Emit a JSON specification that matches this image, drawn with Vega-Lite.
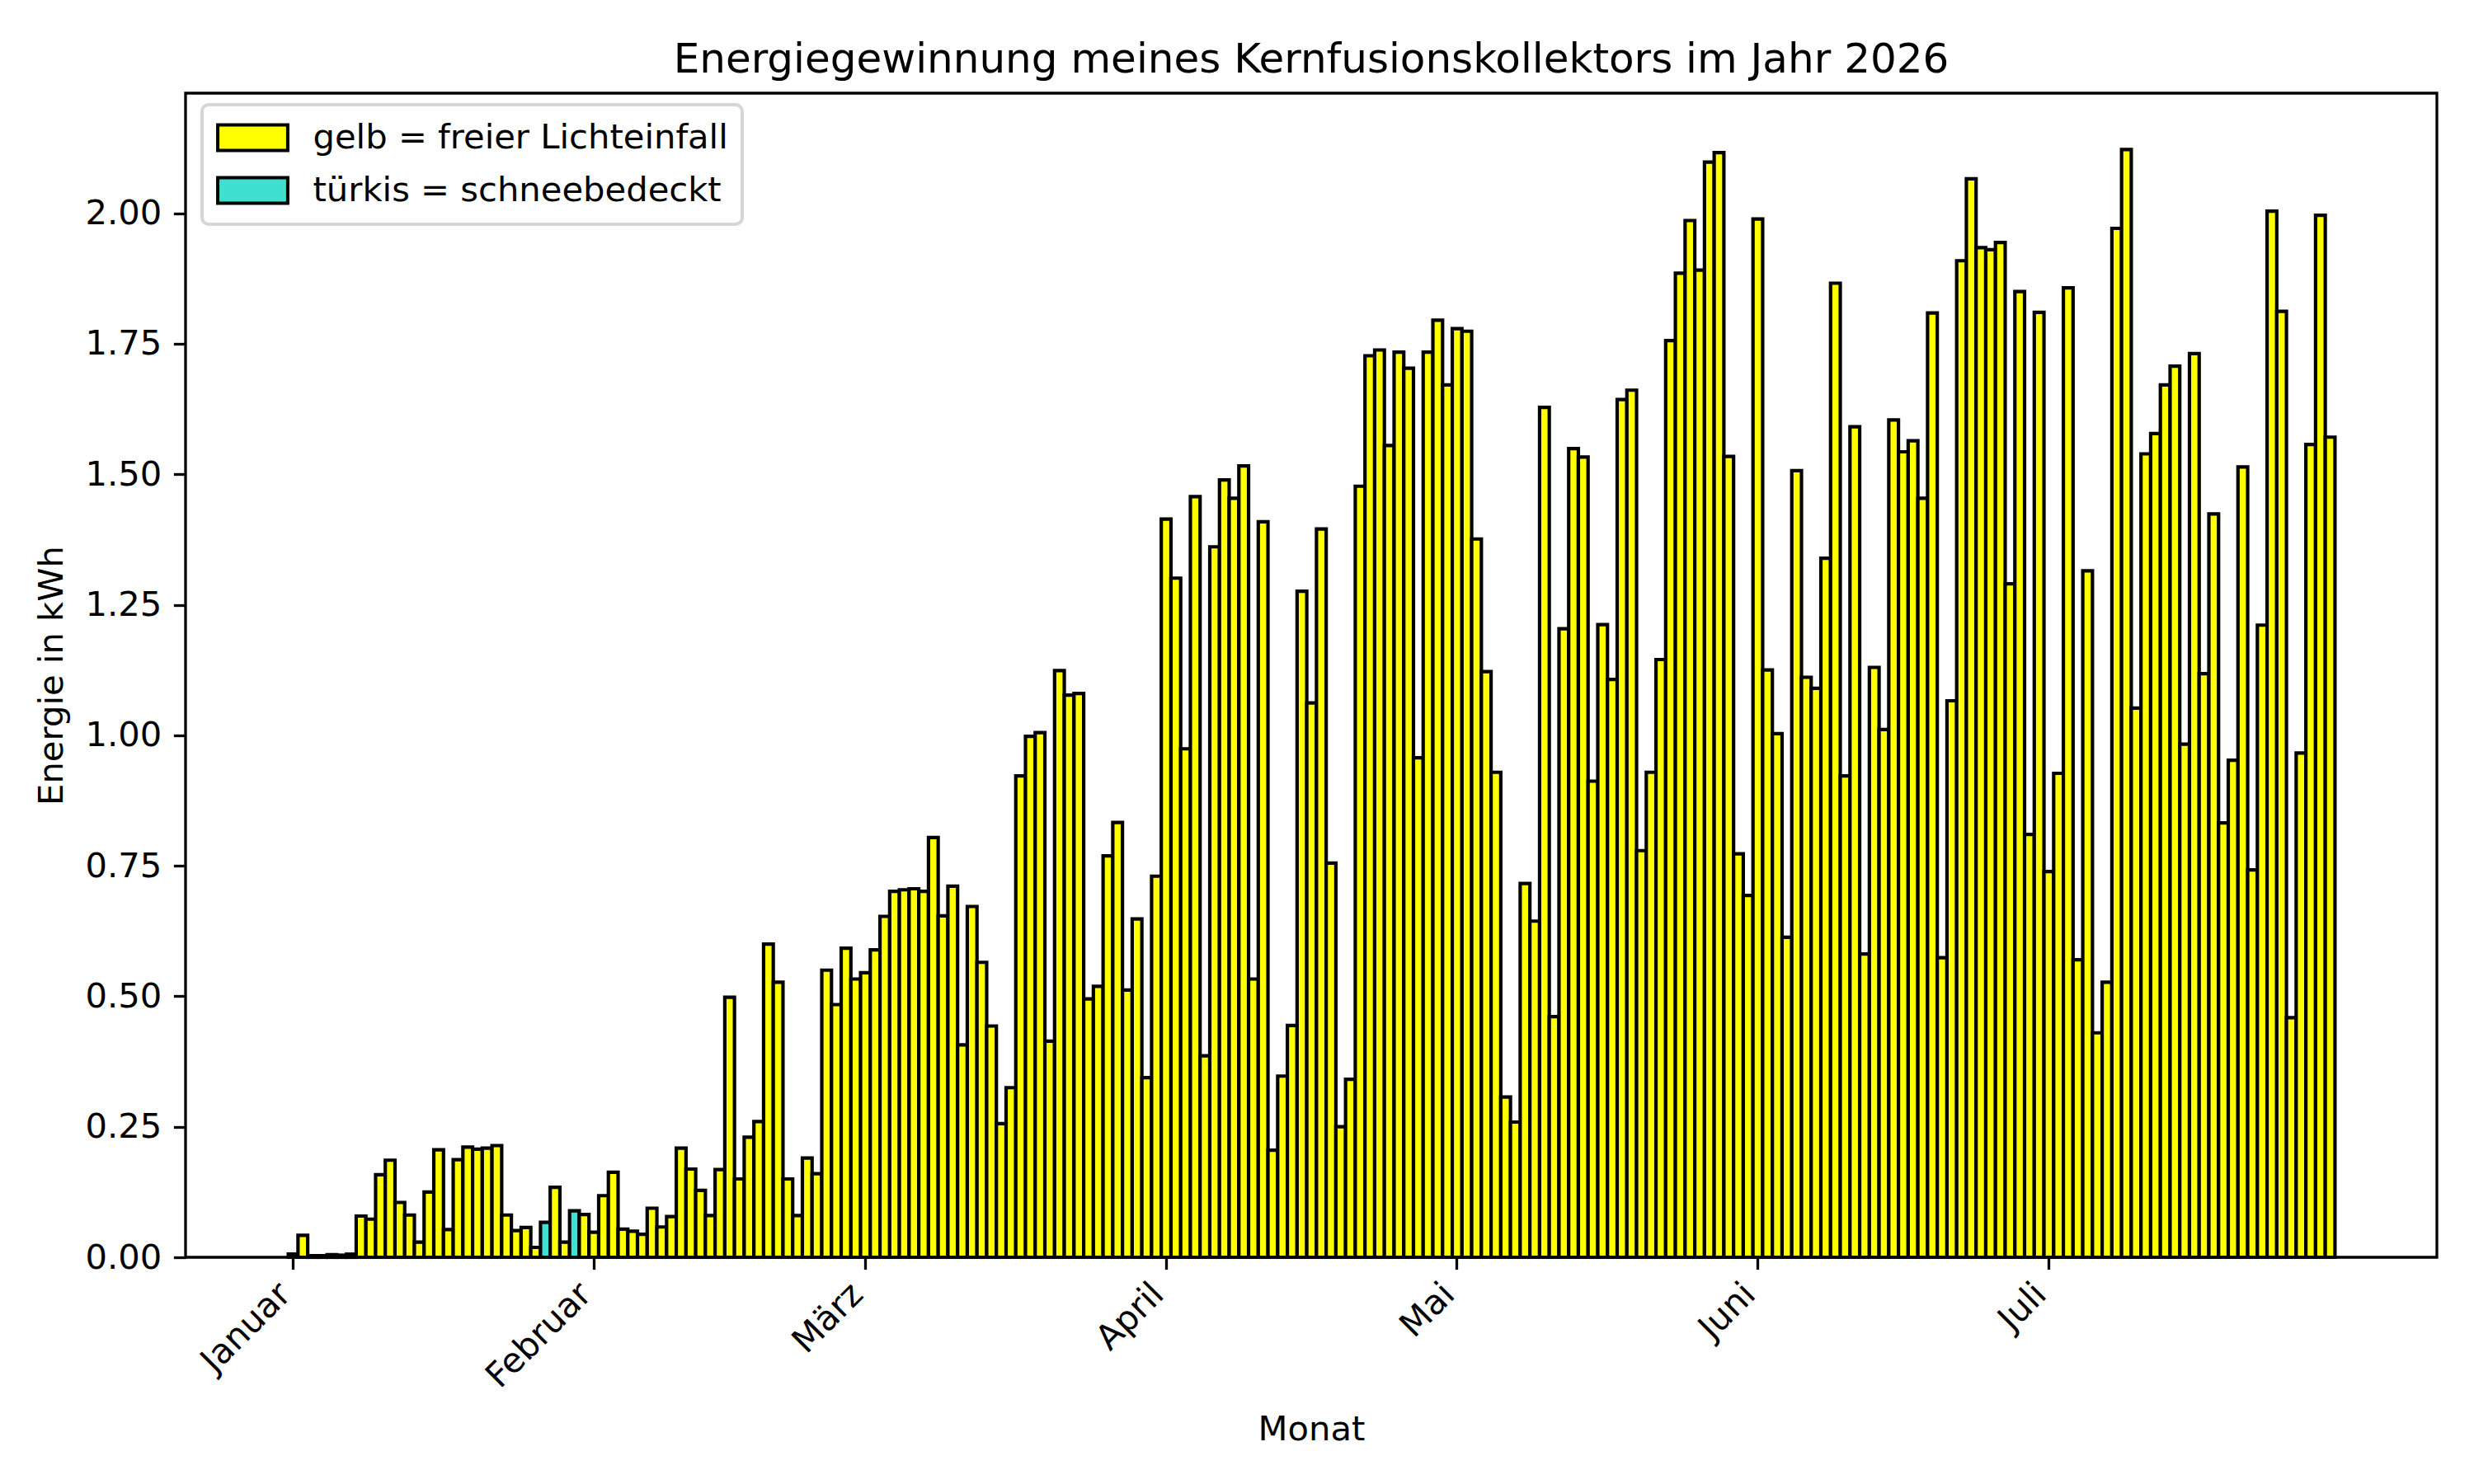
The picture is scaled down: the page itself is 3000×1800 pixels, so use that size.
{
  "$schema": "https://vega.github.io/schema/vega-lite/v6.json",
  "width": 2730,
  "height": 1412,
  "autosize": {"type": "none"},
  "padding": {"left": 225, "top": 113, "right": 45, "bottom": 275},
  "background": "white",
  "title": {
    "text": "Energiegewinnung meines Kernfusionskollektors im Jahr 2026",
    "font": "DejaVu Sans",
    "fontSize": 50,
    "fontWeight": "normal",
    "color": "black",
    "anchor": "middle",
    "frame": "group",
    "baseline": "alphabetic",
    "offset": 26,
    "dy": 51
  },
  "data": {
    "values": [
      {"tag": "2026-01-01", "energie": 0.006, "zustand": "frei"},
      {"tag": "2026-01-02", "energie": 0.042, "zustand": "frei"},
      {"tag": "2026-01-03", "energie": 0.003, "zustand": "frei"},
      {"tag": "2026-01-04", "energie": 0.003, "zustand": "frei"},
      {"tag": "2026-01-05", "energie": 0.005, "zustand": "frei"},
      {"tag": "2026-01-06", "energie": 0.004, "zustand": "frei"},
      {"tag": "2026-01-07", "energie": 0.006, "zustand": "frei"},
      {"tag": "2026-01-08", "energie": 0.079, "zustand": "frei"},
      {"tag": "2026-01-09", "energie": 0.073, "zustand": "frei"},
      {"tag": "2026-01-10", "energie": 0.158, "zustand": "frei"},
      {"tag": "2026-01-11", "energie": 0.186, "zustand": "frei"},
      {"tag": "2026-01-12", "energie": 0.105, "zustand": "frei"},
      {"tag": "2026-01-13", "energie": 0.081, "zustand": "frei"},
      {"tag": "2026-01-14", "energie": 0.029, "zustand": "frei"},
      {"tag": "2026-01-15", "energie": 0.125, "zustand": "frei"},
      {"tag": "2026-01-16", "energie": 0.206, "zustand": "frei"},
      {"tag": "2026-01-17", "energie": 0.053, "zustand": "frei"},
      {"tag": "2026-01-18", "energie": 0.187, "zustand": "frei"},
      {"tag": "2026-01-19", "energie": 0.211, "zustand": "frei"},
      {"tag": "2026-01-20", "energie": 0.207, "zustand": "frei"},
      {"tag": "2026-01-21", "energie": 0.209, "zustand": "frei"},
      {"tag": "2026-01-22", "energie": 0.214, "zustand": "frei"},
      {"tag": "2026-01-23", "energie": 0.081, "zustand": "frei"},
      {"tag": "2026-01-24", "energie": 0.051, "zustand": "frei"},
      {"tag": "2026-01-25", "energie": 0.057, "zustand": "frei"},
      {"tag": "2026-01-26", "energie": 0.019, "zustand": "frei"},
      {"tag": "2026-01-27", "energie": 0.067, "zustand": "schnee"},
      {"tag": "2026-01-28", "energie": 0.134, "zustand": "frei"},
      {"tag": "2026-01-29", "energie": 0.029, "zustand": "frei"},
      {"tag": "2026-01-30", "energie": 0.089, "zustand": "schnee"},
      {"tag": "2026-01-31", "energie": 0.082, "zustand": "frei"},
      {"tag": "2026-02-01", "energie": 0.048, "zustand": "frei"},
      {"tag": "2026-02-02", "energie": 0.118, "zustand": "frei"},
      {"tag": "2026-02-03", "energie": 0.163, "zustand": "frei"},
      {"tag": "2026-02-04", "energie": 0.054, "zustand": "frei"},
      {"tag": "2026-02-05", "energie": 0.050, "zustand": "frei"},
      {"tag": "2026-02-06", "energie": 0.044, "zustand": "frei"},
      {"tag": "2026-02-07", "energie": 0.094, "zustand": "frei"},
      {"tag": "2026-02-08", "energie": 0.058, "zustand": "frei"},
      {"tag": "2026-02-09", "energie": 0.078, "zustand": "frei"},
      {"tag": "2026-02-10", "energie": 0.209, "zustand": "frei"},
      {"tag": "2026-02-11", "energie": 0.169, "zustand": "frei"},
      {"tag": "2026-02-12", "energie": 0.128, "zustand": "frei"},
      {"tag": "2026-02-13", "energie": 0.080, "zustand": "frei"},
      {"tag": "2026-02-14", "energie": 0.168, "zustand": "frei"},
      {"tag": "2026-02-15", "energie": 0.498, "zustand": "frei"},
      {"tag": "2026-02-16", "energie": 0.150, "zustand": "frei"},
      {"tag": "2026-02-17", "energie": 0.230, "zustand": "frei"},
      {"tag": "2026-02-18", "energie": 0.260, "zustand": "frei"},
      {"tag": "2026-02-19", "energie": 0.600, "zustand": "frei"},
      {"tag": "2026-02-20", "energie": 0.527, "zustand": "frei"},
      {"tag": "2026-02-21", "energie": 0.150, "zustand": "frei"},
      {"tag": "2026-02-22", "energie": 0.080, "zustand": "frei"},
      {"tag": "2026-02-23", "energie": 0.190, "zustand": "frei"},
      {"tag": "2026-02-24", "energie": 0.160, "zustand": "frei"},
      {"tag": "2026-02-25", "energie": 0.550, "zustand": "frei"},
      {"tag": "2026-02-26", "energie": 0.484, "zustand": "frei"},
      {"tag": "2026-02-27", "energie": 0.592, "zustand": "frei"},
      {"tag": "2026-02-28", "energie": 0.533, "zustand": "frei"},
      {"tag": "2026-03-01", "energie": 0.545, "zustand": "frei"},
      {"tag": "2026-03-02", "energie": 0.589, "zustand": "frei"},
      {"tag": "2026-03-03", "energie": 0.653, "zustand": "frei"},
      {"tag": "2026-03-04", "energie": 0.701, "zustand": "frei"},
      {"tag": "2026-03-05", "energie": 0.704, "zustand": "frei"},
      {"tag": "2026-03-06", "energie": 0.706, "zustand": "frei"},
      {"tag": "2026-03-07", "energie": 0.701, "zustand": "frei"},
      {"tag": "2026-03-08", "energie": 0.804, "zustand": "frei"},
      {"tag": "2026-03-09", "energie": 0.654, "zustand": "frei"},
      {"tag": "2026-03-10", "energie": 0.711, "zustand": "frei"},
      {"tag": "2026-03-11", "energie": 0.407, "zustand": "frei"},
      {"tag": "2026-03-12", "energie": 0.672, "zustand": "frei"},
      {"tag": "2026-03-13", "energie": 0.565, "zustand": "frei"},
      {"tag": "2026-03-14", "energie": 0.443, "zustand": "frei"},
      {"tag": "2026-03-15", "energie": 0.256, "zustand": "frei"},
      {"tag": "2026-03-16", "energie": 0.325, "zustand": "frei"},
      {"tag": "2026-03-17", "energie": 0.922, "zustand": "frei"},
      {"tag": "2026-03-18", "energie": 0.998, "zustand": "frei"},
      {"tag": "2026-03-19", "energie": 1.005, "zustand": "frei"},
      {"tag": "2026-03-20", "energie": 0.414, "zustand": "frei"},
      {"tag": "2026-03-21", "energie": 1.124, "zustand": "frei"},
      {"tag": "2026-03-22", "energie": 1.077, "zustand": "frei"},
      {"tag": "2026-03-23", "energie": 1.080, "zustand": "frei"},
      {"tag": "2026-03-24", "energie": 0.495, "zustand": "frei"},
      {"tag": "2026-03-25", "energie": 0.519, "zustand": "frei"},
      {"tag": "2026-03-26", "energie": 0.769, "zustand": "frei"},
      {"tag": "2026-03-27", "energie": 0.833, "zustand": "frei"},
      {"tag": "2026-03-28", "energie": 0.512, "zustand": "frei"},
      {"tag": "2026-03-29", "energie": 0.648, "zustand": "frei"},
      {"tag": "2026-03-30", "energie": 0.344, "zustand": "frei"},
      {"tag": "2026-03-31", "energie": 0.730, "zustand": "frei"},
      {"tag": "2026-04-01", "energie": 1.414, "zustand": "frei"},
      {"tag": "2026-04-02", "energie": 1.301, "zustand": "frei"},
      {"tag": "2026-04-03", "energie": 0.974, "zustand": "frei"},
      {"tag": "2026-04-04", "energie": 1.457, "zustand": "frei"},
      {"tag": "2026-04-05", "energie": 0.386, "zustand": "frei"},
      {"tag": "2026-04-06", "energie": 1.361, "zustand": "frei"},
      {"tag": "2026-04-07", "energie": 1.489, "zustand": "frei"},
      {"tag": "2026-04-08", "energie": 1.454, "zustand": "frei"},
      {"tag": "2026-04-09", "energie": 1.516, "zustand": "frei"},
      {"tag": "2026-04-10", "energie": 0.533, "zustand": "frei"},
      {"tag": "2026-04-11", "energie": 1.409, "zustand": "frei"},
      {"tag": "2026-04-12", "energie": 0.205, "zustand": "frei"},
      {"tag": "2026-04-13", "energie": 0.347, "zustand": "frei"},
      {"tag": "2026-04-14", "energie": 0.444, "zustand": "frei"},
      {"tag": "2026-04-15", "energie": 1.276, "zustand": "frei"},
      {"tag": "2026-04-16", "energie": 1.062, "zustand": "frei"},
      {"tag": "2026-04-17", "energie": 1.395, "zustand": "frei"},
      {"tag": "2026-04-18", "energie": 0.755, "zustand": "frei"},
      {"tag": "2026-04-19", "energie": 0.250, "zustand": "frei"},
      {"tag": "2026-04-20", "energie": 0.341, "zustand": "frei"},
      {"tag": "2026-04-21", "energie": 1.477, "zustand": "frei"},
      {"tag": "2026-04-22", "energie": 1.727, "zustand": "frei"},
      {"tag": "2026-04-23", "energie": 1.738, "zustand": "frei"},
      {"tag": "2026-04-24", "energie": 1.555, "zustand": "frei"},
      {"tag": "2026-04-25", "energie": 1.734, "zustand": "frei"},
      {"tag": "2026-04-26", "energie": 1.703, "zustand": "frei"},
      {"tag": "2026-04-27", "energie": 0.957, "zustand": "frei"},
      {"tag": "2026-04-28", "energie": 1.734, "zustand": "frei"},
      {"tag": "2026-04-29", "energie": 1.795, "zustand": "frei"},
      {"tag": "2026-04-30", "energie": 1.671, "zustand": "frei"},
      {"tag": "2026-05-01", "energie": 1.779, "zustand": "frei"},
      {"tag": "2026-05-02", "energie": 1.774, "zustand": "frei"},
      {"tag": "2026-05-03", "energie": 1.376, "zustand": "frei"},
      {"tag": "2026-05-04", "energie": 1.122, "zustand": "frei"},
      {"tag": "2026-05-05", "energie": 0.929, "zustand": "frei"},
      {"tag": "2026-05-06", "energie": 0.307, "zustand": "frei"},
      {"tag": "2026-05-07", "energie": 0.259, "zustand": "frei"},
      {"tag": "2026-05-08", "energie": 0.716, "zustand": "frei"},
      {"tag": "2026-05-09", "energie": 0.644, "zustand": "frei"},
      {"tag": "2026-05-10", "energie": 1.628, "zustand": "frei"},
      {"tag": "2026-05-11", "energie": 0.461, "zustand": "frei"},
      {"tag": "2026-05-12", "energie": 1.204, "zustand": "frei"},
      {"tag": "2026-05-13", "energie": 1.549, "zustand": "frei"},
      {"tag": "2026-05-14", "energie": 1.533, "zustand": "frei"},
      {"tag": "2026-05-15", "energie": 0.912, "zustand": "frei"},
      {"tag": "2026-05-16", "energie": 1.212, "zustand": "frei"},
      {"tag": "2026-05-17", "energie": 1.107, "zustand": "frei"},
      {"tag": "2026-05-18", "energie": 1.643, "zustand": "frei"},
      {"tag": "2026-05-19", "energie": 1.661, "zustand": "frei"},
      {"tag": "2026-05-20", "energie": 0.779, "zustand": "frei"},
      {"tag": "2026-05-21", "energie": 0.929, "zustand": "frei"},
      {"tag": "2026-05-22", "energie": 1.145, "zustand": "frei"},
      {"tag": "2026-05-23", "energie": 1.756, "zustand": "frei"},
      {"tag": "2026-05-24", "energie": 1.885, "zustand": "frei"},
      {"tag": "2026-05-25", "energie": 1.986, "zustand": "frei"},
      {"tag": "2026-05-26", "energie": 1.891, "zustand": "frei"},
      {"tag": "2026-05-27", "energie": 2.098, "zustand": "frei"},
      {"tag": "2026-05-28", "energie": 2.116, "zustand": "frei"},
      {"tag": "2026-05-29", "energie": 1.534, "zustand": "frei"},
      {"tag": "2026-05-30", "energie": 0.773, "zustand": "frei"},
      {"tag": "2026-05-31", "energie": 0.693, "zustand": "frei"},
      {"tag": "2026-06-01", "energie": 1.989, "zustand": "frei"},
      {"tag": "2026-06-02", "energie": 1.125, "zustand": "frei"},
      {"tag": "2026-06-03", "energie": 1.003, "zustand": "frei"},
      {"tag": "2026-06-04", "energie": 0.613, "zustand": "frei"},
      {"tag": "2026-06-05", "energie": 1.507, "zustand": "frei"},
      {"tag": "2026-06-06", "energie": 1.111, "zustand": "frei"},
      {"tag": "2026-06-07", "energie": 1.090, "zustand": "frei"},
      {"tag": "2026-06-08", "energie": 1.339, "zustand": "frei"},
      {"tag": "2026-06-09", "energie": 1.866, "zustand": "frei"},
      {"tag": "2026-06-10", "energie": 0.922, "zustand": "frei"},
      {"tag": "2026-06-11", "energie": 1.591, "zustand": "frei"},
      {"tag": "2026-06-12", "energie": 0.581, "zustand": "frei"},
      {"tag": "2026-06-13", "energie": 1.130, "zustand": "frei"},
      {"tag": "2026-06-14", "energie": 1.011, "zustand": "frei"},
      {"tag": "2026-06-15", "energie": 1.604, "zustand": "frei"},
      {"tag": "2026-06-16", "energie": 1.543, "zustand": "frei"},
      {"tag": "2026-06-17", "energie": 1.564, "zustand": "frei"},
      {"tag": "2026-06-18", "energie": 1.454, "zustand": "frei"},
      {"tag": "2026-06-19", "energie": 1.809, "zustand": "frei"},
      {"tag": "2026-06-20", "energie": 0.574, "zustand": "frei"},
      {"tag": "2026-06-21", "energie": 1.066, "zustand": "frei"},
      {"tag": "2026-06-22", "energie": 1.909, "zustand": "frei"},
      {"tag": "2026-06-23", "energie": 2.066, "zustand": "frei"},
      {"tag": "2026-06-24", "energie": 1.934, "zustand": "frei"},
      {"tag": "2026-06-25", "energie": 1.930, "zustand": "frei"},
      {"tag": "2026-06-26", "energie": 1.944, "zustand": "frei"},
      {"tag": "2026-06-27", "energie": 1.290, "zustand": "frei"},
      {"tag": "2026-06-28", "energie": 1.850, "zustand": "frei"},
      {"tag": "2026-06-29", "energie": 0.810, "zustand": "frei"},
      {"tag": "2026-06-30", "energie": 1.810, "zustand": "frei"},
      {"tag": "2026-07-01", "energie": 0.739, "zustand": "frei"},
      {"tag": "2026-07-02", "energie": 0.927, "zustand": "frei"},
      {"tag": "2026-07-03", "energie": 1.857, "zustand": "frei"},
      {"tag": "2026-07-04", "energie": 0.570, "zustand": "frei"},
      {"tag": "2026-07-05", "energie": 1.315, "zustand": "frei"},
      {"tag": "2026-07-06", "energie": 0.430, "zustand": "frei"},
      {"tag": "2026-07-07", "energie": 0.527, "zustand": "frei"},
      {"tag": "2026-07-08", "energie": 1.971, "zustand": "frei"},
      {"tag": "2026-07-09", "energie": 2.122, "zustand": "frei"},
      {"tag": "2026-07-10", "energie": 1.052, "zustand": "frei"},
      {"tag": "2026-07-11", "energie": 1.539, "zustand": "frei"},
      {"tag": "2026-07-12", "energie": 1.578, "zustand": "frei"},
      {"tag": "2026-07-13", "energie": 1.671, "zustand": "frei"},
      {"tag": "2026-07-14", "energie": 1.707, "zustand": "frei"},
      {"tag": "2026-07-15", "energie": 0.983, "zustand": "frei"},
      {"tag": "2026-07-16", "energie": 1.731, "zustand": "frei"},
      {"tag": "2026-07-17", "energie": 1.118, "zustand": "frei"},
      {"tag": "2026-07-18", "energie": 1.424, "zustand": "frei"},
      {"tag": "2026-07-19", "energie": 0.832, "zustand": "frei"},
      {"tag": "2026-07-20", "energie": 0.952, "zustand": "frei"},
      {"tag": "2026-07-21", "energie": 1.514, "zustand": "frei"},
      {"tag": "2026-07-22", "energie": 0.742, "zustand": "frei"},
      {"tag": "2026-07-23", "energie": 1.211, "zustand": "frei"},
      {"tag": "2026-07-24", "energie": 2.004, "zustand": "frei"},
      {"tag": "2026-07-25", "energie": 1.812, "zustand": "frei"},
      {"tag": "2026-07-26", "energie": 0.459, "zustand": "frei"},
      {"tag": "2026-07-27", "energie": 0.966, "zustand": "frei"},
      {"tag": "2026-07-28", "energie": 1.557, "zustand": "frei"},
      {"tag": "2026-07-29", "energie": 1.996, "zustand": "frei"},
      {"tag": "2026-07-30", "energie": 1.571, "zustand": "frei"}
    ]
  },
  "mark": {"type": "bar", "stroke": "black", "strokeWidth": 4.17, "binSpacing": 0},
  "encoding": {
    "x": {
      "field": "tag",
      "type": "temporal",
      "timeUnit": "utcyearmonthdate",
      "scale": {
        "domain": [
          {"year": 2025, "month": 12, "date": 21, "hours": 10, "minutes": 48, "utc": true},
          {"year": 2026, "month": 8, "date": 10, "hours": 13, "minutes": 12, "utc": true}
        ],
        "nice": false
      },
      "axis": {
        "title": "Monat",
        "values": [
          {"year": 2026, "month": 1, "date": 1, "hours": 12, "utc": true},
          {"year": 2026, "month": 2, "date": 1, "hours": 12, "utc": true},
          {"year": 2026, "month": 3, "date": 1, "hours": 12, "utc": true},
          {"year": 2026, "month": 4, "date": 1, "hours": 12, "utc": true},
          {"year": 2026, "month": 5, "date": 1, "hours": 12, "utc": true},
          {"year": 2026, "month": 6, "date": 1, "hours": 12, "utc": true},
          {"year": 2026, "month": 7, "date": 1, "hours": 12, "utc": true}
        ],
        "labelExpr": "['Januar','Februar','März','April','Mai','Juni','Juli','August'][utcmonth(datum.value)]",
        "labelAngle": -45,
        "labelAlign": "right",
        "labelBaseline": "top",
        "labelPadding": 9,
        "labelOffset": -24,
        "labelOverlap": false,
        "labelFlush": false,
        "labelBound": false,
        "titleY": 221,
        "titleBaseline": "alphabetic"
      }
    },
    "y": {
      "field": "energie",
      "type": "quantitative",
      "scale": {"domain": [0, 2.23], "nice": false},
      "axis": {
        "title": "Energie in kWh",
        "values": [0, 0.25, 0.5, 0.75, 1, 1.25, 1.5, 1.75, 2],
        "format": ".2f",
        "labelPadding": 14.6,
        "titleX": -150,
        "titleBaseline": "alphabetic"
      }
    },
    "color": {
      "field": "zustand",
      "type": "nominal",
      "scale": {"domain": ["frei", "schnee"], "range": ["#ffff00", "#40e0d0"]},
      "legend": {
        "title": null,
        "orient": "none",
        "legendX": 20,
        "legendY": 14,
        "labelExpr": "datum.label == 'frei' ? 'gelb = freier Lichteinfall' : 'türkis = schneebedeckt'",
        "labelLimit": 0,
        "symbolType": "M-2.02,-0.738H2.02V0.738H-2.02Z",
        "symbolSize": 1764,
        "symbolOffset": 21.5,
        "symbolStrokeColor": "black",
        "symbolStrokeWidth": 4,
        "symbolOpacity": 1,
        "labelOffset": 50,
        "rowPadding": 16,
        "padding": 17,
        "strokeColor": "#d6d6d6",
        "fillColor": "rgba(255,255,255,0.8)",
        "cornerRadius": 8
      }
    }
  },
  "config": {
    "font": "DejaVu Sans",
    "view": {"stroke": "black", "strokeWidth": 3.3},
    "axis": {
      "domain": false,
      "grid": false,
      "labelFont": "DejaVu Sans",
      "labelFontSize": 41.7,
      "labelColor": "black",
      "tickColor": "black",
      "tickSize": 14.6,
      "tickWidth": 3.3,
      "titleFont": "DejaVu Sans",
      "titleFontSize": 41.7,
      "titleFontWeight": "normal",
      "titleColor": "black"
    },
    "legend": {
      "labelFont": "DejaVu Sans",
      "labelFontSize": 41.7,
      "labelColor": "black",
      "strokeWidth": 4
    }
  }
}
